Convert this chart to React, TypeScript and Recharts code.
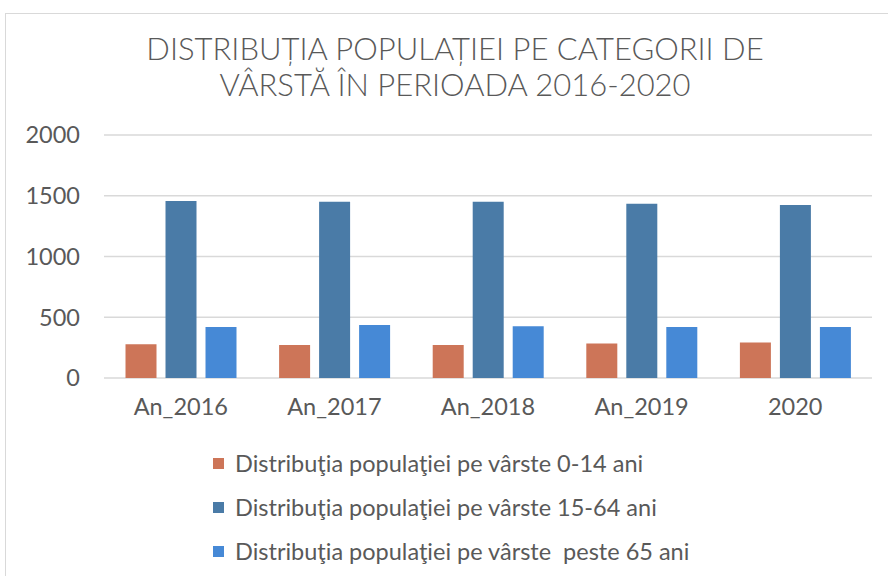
import React from "react"
import { BarChart, Bar, XAxis, YAxis, CartesianGrid } from "recharts"

const ani = ["An_2016", "An_2017", "An_2018", "An_2019", "2020"]
const varsta0_14 = [278, 272, 272, 283, 292]
const varsta15_64 = [1457, 1451, 1451, 1435, 1424]
const varsta65 = [420, 437, 426, 420, 420]
const yTicks = [0, 500, 1000, 1500, 2000]

const serii = [
  { key: "v0_14", name: "Distribuţia populaţiei pe vârste 0-14 ani", color: "#CD7558" },
  { key: "v15_64", name: "Distribuţia populaţiei pe vârste 15-64 ani", color: "#4A7BA7" },
  { key: "v65", name: "Distribuţia populaţiei pe vârste  peste 65 ani", color: "#4689D6" },
]

const data = ani.map((an, i) => ({
  an,
  v0_14: varsta0_14[i],
  v15_64: varsta15_64[i],
  v65: varsta65[i],
}))

const textColor = "#595959"
const tickStyle = { fill: textColor, fontSize: 23.5, fontFamily: "Lato, sans-serif" }

function LegendaVerticala() {
  return (
    <div style={{ fontFamily: "Lato, sans-serif", fontSize: 23.5, color: textColor }}>
      {serii.map((s) => (
        <div key={s.key} style={{ display: "flex", alignItems: "center", height: 44 }}>
          <span style={{ width: 11, height: 11, background: s.color, marginRight: 11, display: "inline-block" }} />
          <span style={{ whiteSpace: "pre" }}>{s.name}</span>
        </div>
      ))}
    </div>
  )
}

export default function App() {
  return (
    <div style={{ position: "relative", width: 888, height: 576, overflow: "hidden", background: "#fff" }}>
      <style>{`body{margin:0}`}</style>
      <div
        style={{
          position: "absolute",
          left: 5,
          top: 13,
          width: 900,
          height: 600,
          border: "1px solid #d9d9d9",
          boxSizing: "border-box",
        }}
      />
      <div
        style={{
          position: "absolute",
          left: 5,
          top: 30,
          width: 900,
          textAlign: "center",
          fontFamily: "Lato, sans-serif",
          fontWeight: 300,
          fontSize: 31,
          lineHeight: "36px",
          color: textColor,
        }}
      >
        DISTRIBUȚIA POPULAȚIEI PE CATEGORII DE
        <br />
        VÂRSTĂ ÎN PERIOADA 2016-2020
      </div>
      <div style={{ position: "absolute", left: 0, top: 0 }}>
        <BarChart
          width={888}
          height={576}
          data={data}
          margin={{ top: 135, right: 16, left: 5, bottom: 158 }}
          barCategoryGap="14%"
          barGap={9}
        >
          <CartesianGrid vertical={false} stroke="#d9d9d9" strokeWidth={1.5} />
          <XAxis
            dataKey="an"
            axisLine={false}
            tickLine={false}
            tickSize={0}
            tickMargin={20}
            height={40}
            interval={0}
            tick={tickStyle}
          />
          <YAxis
            domain={[0, 2000]}
            ticks={yTicks}
            interval={0}
            width={99}
            axisLine={false}
            tickLine={false}
            tickSize={0}
            tickMargin={24}
            tick={tickStyle}
          />
          {serii.map((s) => (
            <Bar key={s.key} dataKey={s.key} name={s.name} fill={s.color} isAnimationActive={false} />
          ))}
        </BarChart>
      </div>
      <div style={{ position: "absolute", left: 213, top: 441 }}>
        <LegendaVerticala />
      </div>
    </div>
  )
}
